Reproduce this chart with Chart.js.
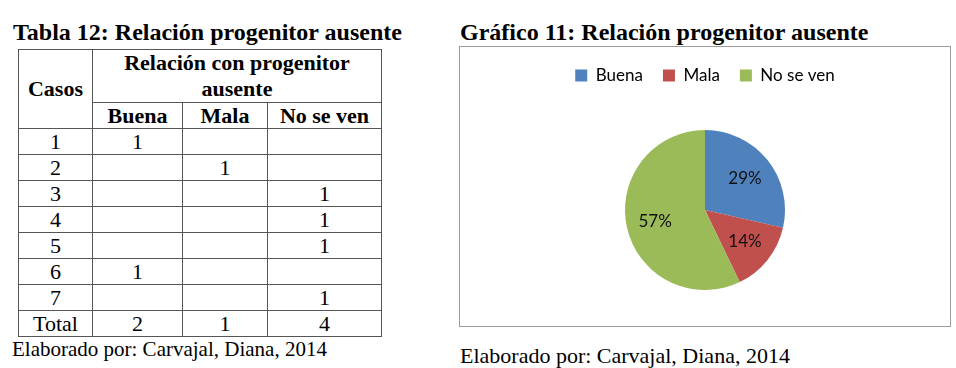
<!DOCTYPE html>
<html>
<head>
<meta charset="utf-8">
<script src="https://cdn.jsdelivr.net/npm/chart.js@4/dist/chart.umd.min.js"></script>
<style>
  html, body { margin: 0; padding: 0; background: #fff; width: 956px; height: 368px; overflow: hidden; }
  body { position: relative; font-family: "Liberation Serif", "Times New Roman", serif; color: #000; }
  .title { position: absolute; font-weight: bold; font-size: 24px; white-space: nowrap; line-height: 1; }
  .note { position: absolute; font-size: 21px; white-space: nowrap; line-height: 1; }
  table { position: absolute; left: 18px; top: 49px; border-collapse: collapse; table-layout: fixed; font-size: 22px; }
  td, th { border: 1px solid #555; padding: 0; text-align: center; line-height: 1; }
  th { font-weight: bold; }
  #box { position: absolute; left: 459px; top: 46px; width: 492px; height: 281px; box-sizing: border-box; border: 1px solid #9c9c9c; }
</style>
</head>
<body>
<script>
const categories = ["Buena", "Mala", "No se ven"];
const caseNumbers = ["1", "2", "3", "4", "5", "6", "7"];
const caseCategory = [0, 1, 2, 2, 2, 0, 2];
const totals = [2, 1, 4];
const colors = ["#4F81BD", "#C0504D", "#9BBB59"];
</script>

<div class="title" style="left:13px; top:20px;">Tabla 12: Relación progenitor ausente</div>
<div class="title" style="left:460px; top:20px;">Gráfico 11: Relación progenitor ausente</div>

<table id="tbl">
  <colgroup><col style="width:74px"><col style="width:90px"><col style="width:85px"><col style="width:114px"></colgroup>
</table>

<div class="note" style="left:12px; top:339px;">Elaborado por: Carvajal, Diana, 2014</div>
<div class="note" style="left:460px; top:345px; font-size:22px;">Elaborado por: Carvajal, Diana, 2014</div>

<div id="box"><canvas id="c" width="490" height="279"></canvas></div>

<script>
// build table
const tbl = document.getElementById('tbl');
let html = '<tr style="height:50px"><th rowspan="2">Casos</th><th colspan="3" style="line-height:26px">Relación con progenitor<br>ausente</th></tr>';
html += '<tr style="height:26px">' + categories.map(c => '<th>' + c + '</th>').join('') + '</tr>';
caseNumbers.forEach((n, i) => {
  html += '<tr style="height:26px"><td>' + n + '</td>' + categories.map((c, j) => '<td>' + (caseCategory[i] === j ? '1' : '') + '</td>').join('') + '</tr>';
});
html += '<tr style="height:26px"><td>Total</td>' + totals.map(t => '<td>' + t + '</td>').join('') + '</tr>';
tbl.insertAdjacentHTML('beforeend', html);

const labelPlugin = {
  id: 'sliceLabels',
  afterDatasetsDraw(chart) {
    const ctx = chart.ctx;
    const meta = chart.getDatasetMeta(0);
    const data = chart.data.datasets[0].data;
    const sum = data.reduce((a, b) => a + b, 0);
    ctx.save();
    ctx.font = '17px Lato';
    ctx.fillStyle = '#111';
    ctx.textAlign = 'center';
    ctx.textBaseline = 'middle';
    meta.data.forEach((arc, i) => {
      const p = arc.getProps(['x', 'y', 'startAngle', 'endAngle', 'outerRadius'], true);
      const mid = (p.startAngle + p.endAngle) / 2;
      const r = p.outerRadius * 0.64;
      const pct = Math.round(data[i] / sum * 100) + '%';
      ctx.fillText(pct, p.x + Math.cos(mid) * r, p.y + Math.sin(mid) * r);
    });
    ctx.restore();
  }
};

new Chart(document.getElementById('c'), {
  type: 'pie',
  data: {
    labels: categories,
    datasets: [{ data: totals, backgroundColor: colors, borderWidth: 0, radius: 80 }]
  },
  options: {
    responsive: false,
    devicePixelRatio: 1,
    animation: false,
    layout: { padding: { top: 0, bottom: -4 } },
    plugins: {
      tooltip: { enabled: false },
      legend: {
        position: 'top',
        labels: { font: { family: 'Lato', size: 17 }, color: '#000', boxWidth: 12, boxHeight: 12, padding: 20 }
      }
    }
  },
  plugins: [labelPlugin]
});
</script>
</body>
</html>
